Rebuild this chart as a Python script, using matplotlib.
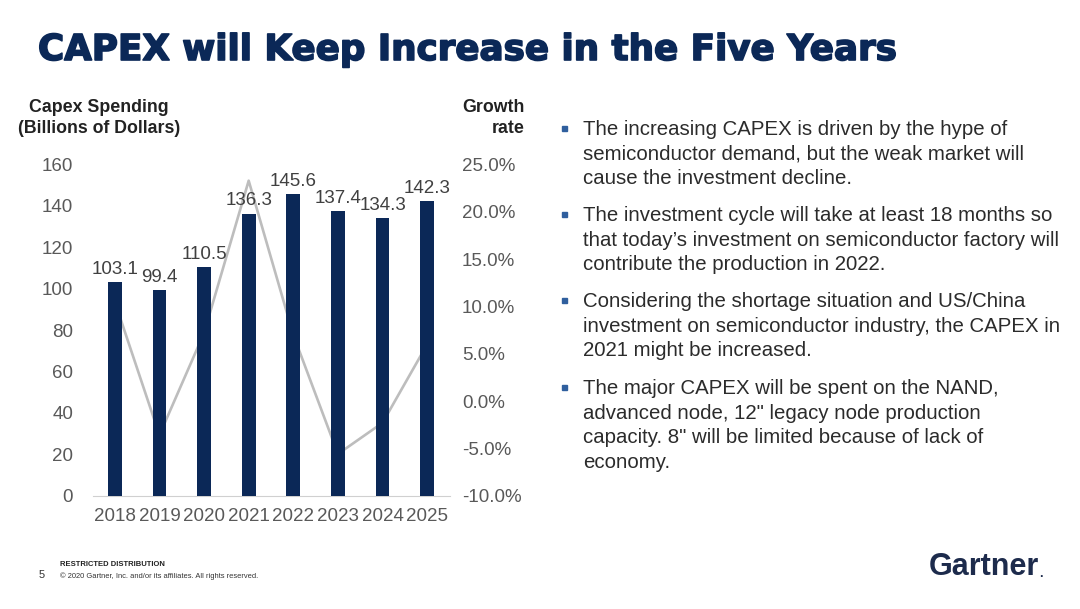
import matplotlib.pyplot as plt
import matplotlib.ticker as mticker
import matplotlib.patheffects as pe
from matplotlib.patches import Rectangle

years = ['2018', '2019', '2020', '2021', '2022', '2023', '2024', '2025']
capex = [103.1, 99.4, 110.5, 136.3, 145.6, 137.4, 134.3, 142.3]
growth = [10.5, -3.6, 7.2, 23.3, 7.0, -5.6, -2.3, 6.0]   # percent

bullets = [
    'The increasing CAPEX is driven by the hype of\nsemiconductor demand, but the weak market will\ncause the investment decline.',
    'The investment cycle will take at least 18 months so\nthat today\u2019s investment on semiconductor factory will\ncontribute the production in 2022.',
    'Considering the shortage situation and US/China\ninvestment on semiconductor industry, the CAPEX in\n2021 might be increased.',
    'The major CAPEX will be spent on the NAND,\nadvanced node, 12" legacy node production\ncapacity. 8" will be limited because of lack of\neconomy.',
]

NAVY = '#0b2857'
GREY = '#595959'
plt.rcParams['font.family'] = ['Liberation Sans', 'DejaVu Sans']
plt.rcParams['axes.unicode_minus'] = False

W, H = 1080, 609
fig = plt.figure(figsize=(W / 100, H / 100), dpi=100)

# axes box in pixels: x 92.5..449.5, y 164.6..495.6
ax = fig.add_axes([92.5 / W, 1 - 495.6 / H, 357 / W, 331 / H])
ax2 = ax.twinx()
ax.set_zorder(ax2.get_zorder() + 1)
ax.patch.set_visible(False)

x = range(len(years))
ax.bar(x, capex, width=0.31, color=NAVY, zorder=3)
for i, v in enumerate(capex):
    ax.text(i, v + 2.0, f'{v:.1f}', ha='center', va='bottom', fontsize=13.5, color='#404040')

ax2.plot(x, [g / 100 for g in growth], color='#bdbdbd', lw=1.9)

ax.set_xlim(-0.5, len(years) - 0.5)
ax.set_ylim(0, 160)
ax.set_yticks(range(0, 161, 20))
ax2.set_ylim(-0.10, 0.25)
ax2.set_yticks([-0.10, -0.05, 0, 0.05, 0.10, 0.15, 0.20, 0.25])
ax2.yaxis.set_major_formatter(mticker.PercentFormatter(1.0, decimals=1))

ax.set_xticks(list(x))
ax.set_xticklabels(years)
for a in (ax, ax2):
    for s in a.spines.values():
        s.set_visible(False)
    a.tick_params(length=0, labelsize=13.5, labelcolor=GREY)
ax.spines['bottom'].set_visible(True)
ax.spines['bottom'].set_color('#d0d0d0')
ax.tick_params(axis='y', pad=14)
ax.tick_params(axis='x', pad=9)
ax2.tick_params(axis='y', pad=9)

# axis titles
fig.text(99 / W, 1 - 118 / H, 'Capex Spending\n(Billions of Dollars)', ha='center', va='center',
         fontsize=12.8, fontweight='bold', color='#222222', linespacing=1.3)
fig.text(525 / W, 1 - 118 / H, 'Growth\nrate', ha='right', va='center',
         fontsize=12.8, fontweight='bold', color='#222222', linespacing=1.3)

# title
fig.text(38 / W, 1 - 50 / H, 'CAPEX will Keep Increase in the Five Years', ha='left', va='center',
         fontsize=25.7, fontweight='bold', color=NAVY, family='DejaVu Sans',
         path_effects=[pe.withStroke(linewidth=1.2, foreground=NAVY)])

# bullet text
tops = [128, 214, 300, 387]
for t, txt in zip(tops, bullets):
    fig.text(583 / W, 1 - (t - 8) / H, txt, ha='left', va='top', fontsize=14.7,
             color='#2b2b2b', linespacing=1.38)
    fig.patches.append(Rectangle(((561.5) / W, 1 - (t + 2.5) / H), 5 / W, 5 / H,
                                 transform=fig.transFigure, color='#2f5f9e'))

# footer
fig.text(42 / W, 1 - 575 / H, '5', ha='center', va='center', fontsize=8, color='#333333')
fig.text(60 / W, 1 - 564 / H, 'RESTRICTED DISTRIBUTION', ha='left', va='center',
         fontsize=5.5, fontweight='bold', color='#222222')
fig.text(60 / W, 1 - 576 / H, '\u00a9 2020 Gartner, Inc. and/or its affiliates. All rights reserved.',
         ha='left', va='center', fontsize=5.4, color='#333333')
fig.text(929 / W, 1 - 567 / H, 'Gartner', ha='left', va='center', fontsize=22,
         fontweight='bold', color='#1d2b4c')
fig.text(1041 / W, 1 - 574 / H, '.', ha='center', va='center', fontsize=9,
         fontweight='bold', color='#1d2b4c')

fig.savefig('out.png', dpi=100)
